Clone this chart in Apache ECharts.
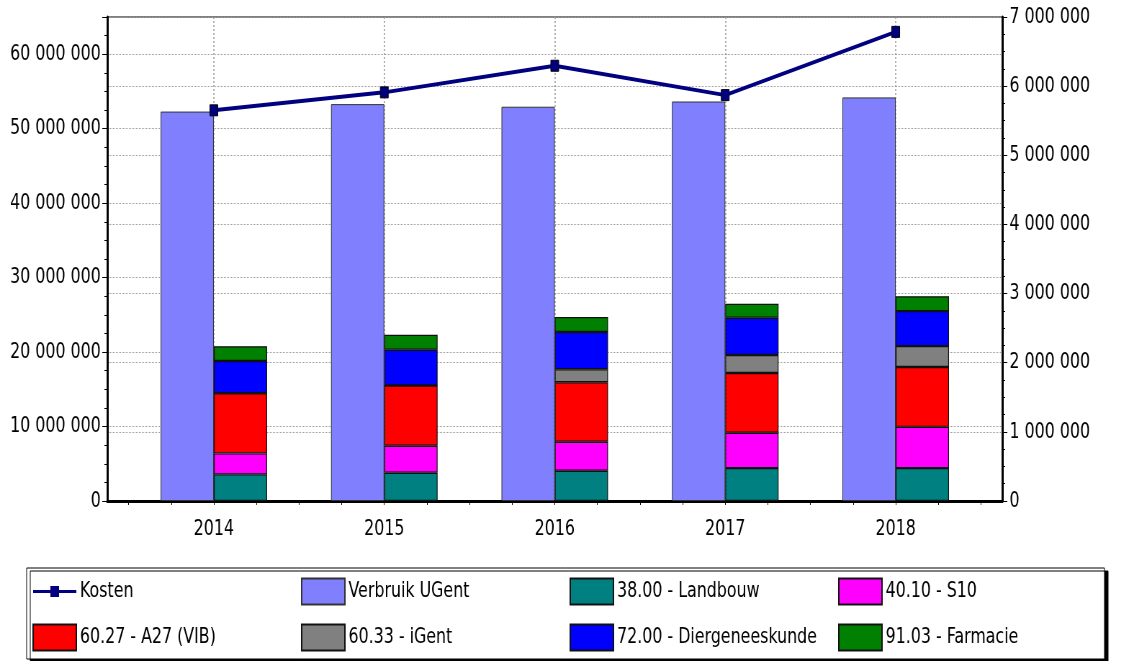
<!DOCTYPE html>
<html>
<head>
<meta charset="utf-8">
<title>Verbruik en kosten</title>
<script src="https://cdn.jsdelivr.net/npm/echarts@6/dist/echarts.min.js"></script>
<style>
    * {
        margin: 0;
        padding: 0;
    }
    html, body {
        width: 1121px;
        height: 661px;
        overflow: hidden;
        background: #fff;
    }
    /* the original picture is squeezed horizontally, so draw wide and scale */
    #main {
        width: 1557px;
        height: 661px;
        transform: scaleX(0.72);
        transform-origin: 0 0;
    }
</style>
</head>
<body>
<div id="main"></div>
<script>
var years = [2014, 2015, 2016, 2017, 2018];
var kosten = [5650000, 5910000, 6295000, 5870000, 6785000];
var verbruik = [52300000, 53300000, 52950000, 53650000, 54200000];
var landbouw = [3580000, 3800000, 4060000, 4420000, 4420000];
var s10 = [2810000, 3610000, 3890000, 4740000, 5540000];
var a27 = [8080000, 8100000, 8000000, 8040000, 8040000];
var igent = [0, 0, 1750000, 2400000, 2800000];
var diergeneeskunde = [4330000, 4800000, 5000000, 5000000, 4700000];
var farmacie = [1980000, 2010000, 2000000, 1900000, 2000000];

var xMin = 2013.375, xMax = 2018.625;
var chartWidth = 1557;
var gridLeft = 149, gridRight = 165, gridTop = 17, gridBottom = 160;
var perYear = (chartWidth - gridLeft - gridRight) / (xMax - xMin);
// hidden grid for the bars, one band per year
var barLeft = gridLeft + (years[0] - 0.5 - xMin) * perYear;
var barRight = gridRight + (xMax - years[years.length - 1] - 0.5) * perYear;

var quarterTicks = [];
for (var t = years[0] - 0.5; t <= years[years.length - 1] + 0.5; t += 0.25) {
    quarterTicks.push(t);
}

function spaced(v) {
    return String(v).replace(/\B(?=(\d{3})+(?!\d))/g, ' ');
}

var gridLine = { show: true, lineStyle: { color: '#9a9a9a', type: 'dotted', width: 1 } };
var black = { color: '#000' };
var labelFont = { fontFamily: 'DejaVu Sans', fontSize: 22, color: '#000' };

var stacks = [
    ['38.00 - Landbouw', landbouw, '#008080'],
    ['40.10 - S10', s10, '#ff00ff'],
    ['60.27 - A27 (VIB)', a27, '#ff0000'],
    ['60.33 - iGent', igent, '#808080'],
    ['72.00 - Diergeneeskunde', diergeneeskunde, '#0000ff'],
    ['91.03 - Farmacie', farmacie, '#008000']
];

var series = [
    {
        name: 'Kosten',
        type: 'line',
        xAxisIndex: 1,
        yAxisIndex: 3,
        data: kosten,
        z: 5,
        symbol: 'rect',
        symbolSize: 11,
        lineStyle: { color: '#000080', width: 4 },
        itemStyle: { color: '#000080', borderColor: '#000', borderWidth: 1 }
    },
    {
        name: 'Verbruik UGent',
        type: 'bar',
        xAxisIndex: 1,
        yAxisIndex: 2,
        data: verbruik,
        barWidth: 74,
        barGap: '0%',
        itemStyle: { color: '#8080ff', borderColor: '#333', borderWidth: 1 }
    }
];
stacks.forEach(function (s) {
    series.push({
        name: s[0],
        type: 'bar',
        stack: 'faculteit',
        xAxisIndex: 1,
        yAxisIndex: 2,
        data: s[1],
        barWidth: 74,
        barGap: '0%',
        itemStyle: { color: s[2], borderColor: '#111', borderWidth: 1.2 }
    });
});

var legendData = [{
    name: 'Kosten',
    icon: 'path://M0,0h0.01v0.01h-0.01z M0,11.5h60v3h-60z M24,7.5h12v11h-12z M59.99,25.99h0.01v0.01h-0.01z',
    itemStyle: { color: '#000080', borderWidth: 0 }
}, 'Verbruik UGent'].concat(stacks.map(function (s) { return s[0]; }));

var chart = echarts.init(document.getElementById('main'));
var option = {
    animation: false,
    textStyle: { fontFamily: 'DejaVu Sans' },
    legend: {
        data: legendData,
        left: 37,
        top: 568,
        width: 1490,
        icon: 'rect',
        itemWidth: 60,
        itemHeight: 26,
        itemGap: 7,
        padding: [4, 4, 2, 8],
        backgroundColor: '#fff',
        borderColor: '#000',
        borderWidth: 1,
        shadowColor: '#000',
        shadowBlur: 0,
        shadowOffsetX: 5,
        shadowOffsetY: 3,
        textStyle: { fontFamily: 'DejaVu Sans', fontSize: 22, color: '#000', width: 300, lineHeight: 39 }
    },
    grid: [
        { left: gridLeft, right: gridRight, top: gridTop, bottom: gridBottom,
          show: true, borderColor: '#000', borderWidth: 1, backgroundColor: '#fff' },
        { left: barLeft, right: barRight, top: gridTop, bottom: gridBottom }
    ],
    xAxis: [
        {
            type: 'value',
            gridIndex: 0,
            min: xMin,
            max: xMax,
            position: 'bottom',
            axisLine: { show: true, onZero: false, lineStyle: { color: '#000', width: 3 } },
            axisTick: { show: false },
            axisLabel: Object.assign({ customValues: years, margin: 17, formatter: function (v) { return String(v); } }, labelFont),
            splitLine: { show: true, lineStyle: { color: '#9a9a9a', type: [2, 2], width: 1.5 } }
        },
        {
            type: 'category',
            gridIndex: 1,
            data: years,
            show: false
        },
        {
            type: 'value',
            gridIndex: 0,
            min: xMin,
            max: xMax,
            position: 'bottom',
            axisLine: { show: false },
            axisTick: { show: true, customValues: quarterTicks, length: 4, lineStyle: black },
            axisLabel: { show: false },
            splitLine: { show: false }
        }
    ],
    yAxis: [
        {
            type: 'value',
            gridIndex: 0,
            position: 'left',
            min: 0,
            max: 65000000,
            interval: 10000000,
            axisLine: { show: true, lineStyle: { color: '#000', width: 3 } },
            axisTick: { show: true, length: 7, lineStyle: black },
            minorTick: { show: true, splitNumber: 4, length: 4, lineStyle: black },
            axisLabel: Object.assign({ formatter: spaced, showMaxLabel: false, margin: 9 }, labelFont),
            splitLine: gridLine
        },
        {
            type: 'value',
            gridIndex: 0,
            position: 'right',
            min: 0,
            max: 7000000,
            interval: 1000000,
            axisLine: { show: true, lineStyle: { color: '#000', width: 3 } },
            axisTick: { show: true, length: 7, lineStyle: black },
            minorTick: { show: true, splitNumber: 4, length: 4, lineStyle: black },
            axisLabel: Object.assign({ formatter: spaced, margin: 10 }, labelFont),
            splitLine: gridLine
        },
        { type: 'value', gridIndex: 1, min: 0, max: 65000000, show: false, splitLine: { show: false } },
        { type: 'value', gridIndex: 1, min: 0, max: 7000000, show: false, splitLine: { show: false } }
    ],
    series: series
};
chart.setOption(option);
</script>
</body>
</html>
